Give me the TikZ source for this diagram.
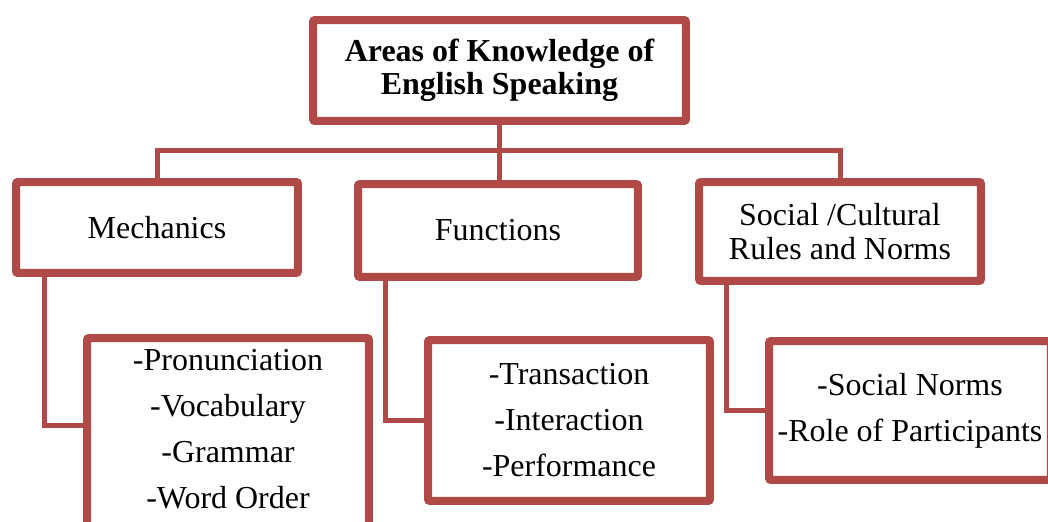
\documentclass[tikz,border=0pt]{standalone}
\usepackage{fontspec}
\setmainfont{Liberation Serif}
\usetikzlibrary{shadows}
\definecolor{boxred}{RGB}{176,74,71}

\begin{document}
\begin{tikzpicture}[x=0.02cm, y=-0.02cm,
    box/.style={draw=boxred, line width=0.16cm, fill=white, rounded corners=0.04cm, align=center,
        font=\fontsize{18.2}{19}\selectfont, minimum width=5.64cm, inner sep=0pt,
        drop shadow={opacity=0.3, shadow xshift=0.04cm, shadow yshift=-0.06cm}},
    listbox/.style={box, font=\fontsize{18.2}{26.2}\selectfont},
    link/.style={draw=boxred, line width=0.1cm}]
    \useasboundingbox (0,0) rectangle (1048,521);

    \node[box, minimum width=7.46cm, minimum height=2.02cm, font=\bfseries\fontsize{18.2}{19}\selectfont] (areas) at (499.5,70.5) {Areas of Knowledge of\\English Speaking};
    \node[box, minimum height=1.82cm] (mech) at (157,227.5) {Mechanics};
    \node[box, minimum width=5.6cm, minimum height=1.86cm] (func) at (498,230.5) {Functions};
    \node[box, minimum height=1.98cm] (soc) at (840,231.5) {Social /Cultural\\Rules and Norms};

    \node[listbox, anchor=north, inner ysep=0.22cm] (mechlist) at (228,334) {-Pronunciation\\-Vocabulary\\-Grammar\\-Word Order\rule[-0.6cm]{0pt}{0pt}};
    \node[listbox, minimum height=3.22cm] (trans) at (569,420.5) {-Transaction\\-Interaction\\-Performance};
    \node[listbox, minimum height=2.78cm] (norms) at (910,410.5) {-Social Norms\\-Role of Participants};

    \coordinate (bar) at (0,150);
    \draw[link] (areas.south) -- (areas.south |- func.north);
    \draw[link] (mech.north) -- (mech.north |- bar) -- (soc.north |- bar) -- (soc.north);
    \draw[link] ([xshift=0.64cm]mech.south west) |- (mechlist.west |- 0,425);
    \draw[link] ([xshift=0.62cm]func.south west) |- (trans.west);
    \draw[link] ([xshift=0.62cm]soc.south west) |- (norms.west);
\end{tikzpicture}
\end{document}
